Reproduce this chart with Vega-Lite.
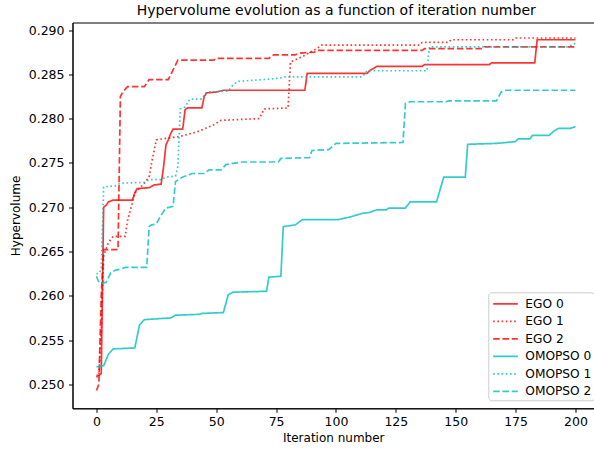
{
  "$schema": "https://vega.github.io/schema/vega-lite/v6.json",
  "autosize": "none",
  "width": 521.5,
  "height": 385.8,
  "padding": {"left": 72.5, "top": 22.5, "right": 0, "bottom": 41.7},
  "background": "white",
  "title": {"text": "Hypervolume evolution as a function of iteration number", "fontSize": 14, "font": "DejaVu Sans", "fontWeight": "normal", "color": "black", "offset": 5, "dx": 3},
  "config": {
    "view": {"stroke": "black", "strokeWidth": 1},
    "axis": {"domainColor": "black", "tickColor": "black", "tickSize": 4, "labelFont": "DejaVu Sans", "labelFontSize": 12.5, "labelColor": "black", "titleFont": "DejaVu Sans", "titleFontSize": 12, "titleFontWeight": "normal", "titleColor": "black", "grid": false, "labelPadding": 3}
  },
  "datasets": {
    "hv": [
      {"s":"EGO 0","x":0,"y":0.2510},{"s":"EGO 0","x":1,"y":0.2510},{"s":"EGO 0","x":2,"y":0.2512},{"s":"EGO 0","x":3,"y":0.2700},{"s":"EGO 0","x":4,"y":0.2702},{"s":"EGO 0","x":5,"y":0.2706},{"s":"EGO 0","x":7,"y":0.2708},{"s":"EGO 0","x":15,"y":0.2708},{"s":"EGO 0","x":16,"y":0.2716},{"s":"EGO 0","x":17,"y":0.2721},{"s":"EGO 0","x":22,"y":0.2722},{"s":"EGO 0","x":24,"y":0.2725},{"s":"EGO 0","x":27,"y":0.2726},{"s":"EGO 0","x":28,"y":0.2745},{"s":"EGO 0","x":29,"y":0.2770},{"s":"EGO 0","x":30,"y":0.2776},{"s":"EGO 0","x":31,"y":0.2783},{"s":"EGO 0","x":32,"y":0.2788},{"s":"EGO 0","x":36,"y":0.2788},{"s":"EGO 0","x":37,"y":0.2810},{"s":"EGO 0","x":38,"y":0.2812},{"s":"EGO 0","x":44,"y":0.2812},{"s":"EGO 0","x":45,"y":0.2825},{"s":"EGO 0","x":46,"y":0.2829},{"s":"EGO 0","x":50,"y":0.2830},{"s":"EGO 0","x":53,"y":0.2832},{"s":"EGO 0","x":87,"y":0.2832},{"s":"EGO 0","x":88,"y":0.2851},{"s":"EGO 0","x":113,"y":0.2851},{"s":"EGO 0","x":114,"y":0.2854},{"s":"EGO 0","x":116,"y":0.2857},{"s":"EGO 0","x":117,"y":0.2859},{"s":"EGO 0","x":136,"y":0.2859},{"s":"EGO 0","x":137,"y":0.2861},{"s":"EGO 0","x":164,"y":0.2861},{"s":"EGO 0","x":165,"y":0.2863},{"s":"EGO 0","x":183,"y":0.2863},{"s":"EGO 0","x":184,"y":0.2889},{"s":"EGO 0","x":200,"y":0.2889},

      {"s":"EGO 1","x":0,"y":0.2508},{"s":"EGO 1","x":1,"y":0.2510},{"s":"EGO 1","x":2,"y":0.2560},{"s":"EGO 1","x":3,"y":0.2645},{"s":"EGO 1","x":5,"y":0.2660},{"s":"EGO 1","x":7,"y":0.2667},{"s":"EGO 1","x":12,"y":0.2667},{"s":"EGO 1","x":13,"y":0.2685},{"s":"EGO 1","x":15,"y":0.2705},{"s":"EGO 1","x":16,"y":0.2716},{"s":"EGO 1","x":20,"y":0.2727},{"s":"EGO 1","x":22,"y":0.2734},{"s":"EGO 1","x":23,"y":0.2750},{"s":"EGO 1","x":25,"y":0.2776},{"s":"EGO 1","x":30,"y":0.2778},{"s":"EGO 1","x":35,"y":0.2780},{"s":"EGO 1","x":42,"y":0.2785},{"s":"EGO 1","x":49,"y":0.2793},{"s":"EGO 1","x":52,"y":0.2798},{"s":"EGO 1","x":68,"y":0.2800},{"s":"EGO 1","x":70,"y":0.2811},{"s":"EGO 1","x":80,"y":0.2812},{"s":"EGO 1","x":81,"y":0.2864},{"s":"EGO 1","x":86,"y":0.2870},{"s":"EGO 1","x":92,"y":0.2879},{"s":"EGO 1","x":94,"y":0.2883},{"s":"EGO 1","x":135,"y":0.2883},{"s":"EGO 1","x":136,"y":0.2886},{"s":"EGO 1","x":147,"y":0.2886},{"s":"EGO 1","x":148,"y":0.2889},{"s":"EGO 1","x":174,"y":0.2889},{"s":"EGO 1","x":175,"y":0.2891},{"s":"EGO 1","x":200,"y":0.2891},

      {"s":"EGO 2","x":0,"y":0.2493},{"s":"EGO 2","x":1,"y":0.2500},{"s":"EGO 2","x":2,"y":0.2600},{"s":"EGO 2","x":3,"y":0.2652},{"s":"EGO 2","x":9,"y":0.2652},{"s":"EGO 2","x":10,"y":0.2825},{"s":"EGO 2","x":11,"y":0.2830},{"s":"EGO 2","x":13,"y":0.2836},{"s":"EGO 2","x":20,"y":0.2836},{"s":"EGO 2","x":22,"y":0.2844},{"s":"EGO 2","x":30,"y":0.2844},{"s":"EGO 2","x":32,"y":0.2855},{"s":"EGO 2","x":34,"y":0.2866},{"s":"EGO 2","x":49,"y":0.2866},{"s":"EGO 2","x":50,"y":0.2868},{"s":"EGO 2","x":72,"y":0.2868},{"s":"EGO 2","x":74,"y":0.2872},{"s":"EGO 2","x":83,"y":0.2872},{"s":"EGO 2","x":85,"y":0.2874},{"s":"EGO 2","x":91,"y":0.2875},{"s":"EGO 2","x":92,"y":0.2877},{"s":"EGO 2","x":136,"y":0.2877},{"s":"EGO 2","x":137,"y":0.2879},{"s":"EGO 2","x":161,"y":0.2879},{"s":"EGO 2","x":162,"y":0.2881},{"s":"EGO 2","x":200,"y":0.2881},

      {"s":"OMOPSO 0","x":0,"y":0.2520},{"s":"OMOPSO 0","x":1,"y":0.2520},{"s":"OMOPSO 0","x":3,"y":0.2521},{"s":"OMOPSO 0","x":5,"y":0.2534},{"s":"OMOPSO 0","x":7,"y":0.2540},{"s":"OMOPSO 0","x":16,"y":0.2541},{"s":"OMOPSO 0","x":18,"y":0.2567},{"s":"OMOPSO 0","x":20,"y":0.2573},{"s":"OMOPSO 0","x":31,"y":0.2575},{"s":"OMOPSO 0","x":33,"y":0.2578},{"s":"OMOPSO 0","x":43,"y":0.2579},{"s":"OMOPSO 0","x":44,"y":0.2580},{"s":"OMOPSO 0","x":53,"y":0.2581},{"s":"OMOPSO 0","x":55,"y":0.2601},{"s":"OMOPSO 0","x":57,"y":0.2604},{"s":"OMOPSO 0","x":71,"y":0.2605},{"s":"OMOPSO 0","x":72,"y":0.2621},{"s":"OMOPSO 0","x":77,"y":0.2622},{"s":"OMOPSO 0","x":78,"y":0.2678},{"s":"OMOPSO 0","x":83,"y":0.2680},{"s":"OMOPSO 0","x":86,"y":0.2686},{"s":"OMOPSO 0","x":101,"y":0.2686},{"s":"OMOPSO 0","x":106,"y":0.2689},{"s":"OMOPSO 0","x":111,"y":0.2693},{"s":"OMOPSO 0","x":114,"y":0.2694},{"s":"OMOPSO 0","x":117,"y":0.2697},{"s":"OMOPSO 0","x":121,"y":0.2697},{"s":"OMOPSO 0","x":122,"y":0.2699},{"s":"OMOPSO 0","x":129,"y":0.2699},{"s":"OMOPSO 0","x":131,"y":0.2706},{"s":"OMOPSO 0","x":142,"y":0.2706},{"s":"OMOPSO 0","x":145,"y":0.2734},{"s":"OMOPSO 0","x":154,"y":0.2734},{"s":"OMOPSO 0","x":155,"y":0.2771},{"s":"OMOPSO 0","x":167,"y":0.2772},{"s":"OMOPSO 0","x":175,"y":0.2774},{"s":"OMOPSO 0","x":176,"y":0.2777},{"s":"OMOPSO 0","x":181,"y":0.2777},{"s":"OMOPSO 0","x":182,"y":0.2781},{"s":"OMOPSO 0","x":189,"y":0.2781},{"s":"OMOPSO 0","x":191,"y":0.2786},{"s":"OMOPSO 0","x":193,"y":0.2789},{"s":"OMOPSO 0","x":198,"y":0.2789},{"s":"OMOPSO 0","x":200,"y":0.2791},

      {"s":"OMOPSO 1","x":0,"y":0.2625},{"s":"OMOPSO 1","x":1,"y":0.2625},{"s":"OMOPSO 1","x":2,"y":0.2630},{"s":"OMOPSO 1","x":3,"y":0.2723},{"s":"OMOPSO 1","x":8,"y":0.2724},{"s":"OMOPSO 1","x":10,"y":0.2727},{"s":"OMOPSO 1","x":20,"y":0.2728},{"s":"OMOPSO 1","x":22,"y":0.2731},{"s":"OMOPSO 1","x":27,"y":0.2731},{"s":"OMOPSO 1","x":29,"y":0.2734},{"s":"OMOPSO 1","x":33,"y":0.2735},{"s":"OMOPSO 1","x":34,"y":0.2746},{"s":"OMOPSO 1","x":35,"y":0.2811},{"s":"OMOPSO 1","x":37,"y":0.2813},{"s":"OMOPSO 1","x":39,"y":0.2822},{"s":"OMOPSO 1","x":44,"y":0.2822},{"s":"OMOPSO 1","x":46,"y":0.2830},{"s":"OMOPSO 1","x":55,"y":0.2831},{"s":"OMOPSO 1","x":57,"y":0.2838},{"s":"OMOPSO 1","x":59,"y":0.2842},{"s":"OMOPSO 1","x":74,"y":0.2845},{"s":"OMOPSO 1","x":77,"y":0.2846},{"s":"OMOPSO 1","x":78,"y":0.2847},{"s":"OMOPSO 1","x":111,"y":0.2847},{"s":"OMOPSO 1","x":113,"y":0.2854},{"s":"OMOPSO 1","x":138,"y":0.2854},{"s":"OMOPSO 1","x":139,"y":0.2881},{"s":"OMOPSO 1","x":197,"y":0.2881},{"s":"OMOPSO 1","x":199,"y":0.2884},{"s":"OMOPSO 1","x":200,"y":0.2885},

      {"s":"OMOPSO 2","x":0,"y":0.2622},{"s":"OMOPSO 2","x":1,"y":0.2615},{"s":"OMOPSO 2","x":2,"y":0.2614},{"s":"OMOPSO 2","x":4,"y":0.2615},{"s":"OMOPSO 2","x":6,"y":0.2626},{"s":"OMOPSO 2","x":8,"y":0.2629},{"s":"OMOPSO 2","x":10,"y":0.2630},{"s":"OMOPSO 2","x":12,"y":0.2632},{"s":"OMOPSO 2","x":21,"y":0.2632},{"s":"OMOPSO 2","x":22,"y":0.2678},{"s":"OMOPSO 2","x":23,"y":0.2680},{"s":"OMOPSO 2","x":25,"y":0.2681},{"s":"OMOPSO 2","x":27,"y":0.2691},{"s":"OMOPSO 2","x":29,"y":0.2699},{"s":"OMOPSO 2","x":32,"y":0.2701},{"s":"OMOPSO 2","x":33,"y":0.2729},{"s":"OMOPSO 2","x":36,"y":0.2734},{"s":"OMOPSO 2","x":40,"y":0.2738},{"s":"OMOPSO 2","x":45,"y":0.2738},{"s":"OMOPSO 2","x":47,"y":0.2742},{"s":"OMOPSO 2","x":52,"y":0.2742},{"s":"OMOPSO 2","x":54,"y":0.2748},{"s":"OMOPSO 2","x":56,"y":0.2749},{"s":"OMOPSO 2","x":61,"y":0.2751},{"s":"OMOPSO 2","x":76,"y":0.2751},{"s":"OMOPSO 2","x":77,"y":0.2755},{"s":"OMOPSO 2","x":89,"y":0.2756},{"s":"OMOPSO 2","x":90,"y":0.2764},{"s":"OMOPSO 2","x":97,"y":0.2765},{"s":"OMOPSO 2","x":100,"y":0.2772},{"s":"OMOPSO 2","x":128,"y":0.2773},{"s":"OMOPSO 2","x":129,"y":0.2817},{"s":"OMOPSO 2","x":131,"y":0.2819},{"s":"OMOPSO 2","x":146,"y":0.2819},{"s":"OMOPSO 2","x":147,"y":0.2820},{"s":"OMOPSO 2","x":167,"y":0.2820},{"s":"OMOPSO 2","x":169,"y":0.2830},{"s":"OMOPSO 2","x":171,"y":0.2832},{"s":"OMOPSO 2","x":200,"y":0.2832}
    ]
  },
  "data": {"name": "hv"},
  "mark": {"type": "line", "strokeWidth": 1.7, "opacity": 0.8, "interpolate": "linear"},
  "encoding": {
    "x": {"field": "x", "type": "quantitative", "scale": {"domain": [-10, 207.74], "nice": false, "zero": false},
      "axis": {"title": "Iteration number", "values": [0,25,50,75,100,125,150,175,200], "format": "d", "titlePadding": 4.5}},
    "y": {"field": "y", "type": "quantitative", "scale": {"domain": [0.24729, 0.29085], "nice": false, "zero": false},
      "axis": {"title": "Hypervolume", "values": [0.25,0.255,0.26,0.265,0.27,0.275,0.28,0.285,0.29], "format": ".3f", "titlePadding": 6, "labelPadding": 4.5}},
    "color": {"field": "s", "type": "nominal",
      "scale": {"domain": ["EGO 0","EGO 1","EGO 2","OMOPSO 0","OMOPSO 1","OMOPSO 2"], "range": ["#ff0000","#ff0000","#ff0000","#00bfbf","#00bfbf","#00bfbf"]},
      "legend": {"title": null, "orient": "none", "legendX": 415.8, "legendY": 269.8, "symbolType": "M-1.45,0L1.45,0", "symbolSize": 289, "symbolStrokeWidth": 1.7, "symbolOpacity": 0.8, "labelFont": "DejaVu Sans", "labelFontSize": 12.2, "labelColor": "black", "padding": 2, "symbolOffset": 5.7, "labelOffset": 10.3, "rowPadding": 1.5, "strokeColor": "#cccccc", "fillColor": "rgba(255,255,255,0.8)", "cornerRadius": 3}},
    "strokeDash": {"field": "s", "type": "nominal",
      "scale": {"domain": ["EGO 0","EGO 1","EGO 2","OMOPSO 0","OMOPSO 1","OMOPSO 2"], "range": [[1,0],[1.6,2.6],[6.5,2.8],[1,0],[1.6,2.6],[6.5,2.8]]}}
  }
}
